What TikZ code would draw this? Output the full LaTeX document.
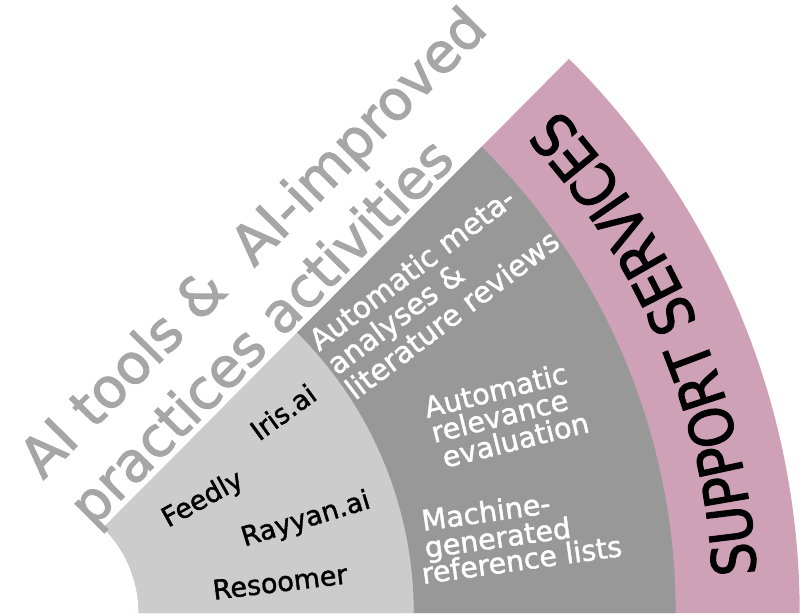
\documentclass[tikz,border=0pt]{standalone}
\usepackage{fontspec}
\setmainfont{DejaVu Sans}
\newfontfamily\supfont[FakeStretch=0.87,FakeBold=2]{DejaVu Sans}
\newfontfamily\medfont[FakeBold=1.5]{DejaVu Sans}
\newfontfamily\titlefont[FakeBold=2]{DejaVu Sans}
\usetikzlibrary{decorations.text}
\definecolor{bandpink}{RGB}{207,161,182}
\definecolor{bandlight}{RGB}{204,204,204}
\definecolor{bandmid}{RGB}{152,152,152}
\definecolor{titlegray}{RGB}{166,166,166}
\tikzset{
  titletext/.style={text=titlegray, font=\titlefont\fontsize{55}{55}\selectfont, inner sep=0pt, anchor=base west, rotate=45.2},
  toollabel/.style={text=black, font=\medfont\fontsize{27}{27}\selectfont, inner sep=0pt},
  midlabel/.style={text=white, font=\medfont\fontsize{28.5}{28.5}\selectfont, inner sep=0pt, anchor=base west},
}
\begin{document}
\begin{tikzpicture}[x=1pt,y=1pt]
\useasboundingbox (0,0) rectangle (802,615);
\begin{scope}[shift={(18.7,2)}]
  \coordinate (C) at (0,0);
  \fill[bandpink] (0:120) -- (0:781) arc[start angle=0,end angle=45.2,radius=781] -- (45.2:120) arc[start angle=45.2,end angle=0,radius=120] -- cycle;
  \fill[bandmid] (0:395) -- (0:657) arc[start angle=0,end angle=45.2,radius=657] -- (45.2:395) arc[start angle=45.2,end angle=0,radius=395] -- cycle;
  \fill[bandlight] (0:120) -- (0:395) arc[start angle=0,end angle=45.2,radius=395] -- (45.2:120) arc[start angle=45.2,end angle=0,radius=120] -- cycle;
  \path[decorate, decoration={text along path, text align=left,
      text={|\supfont\fontsize{60}{60}\selectfont|SUPPORT SERVICES}}]
    (3:738.5) arc[start angle=3, end angle=55, radius=738.5];
\end{scope}
\begin{scope}[shift={(18.7,2)}, rotate=45.2]
  \node[titletext] (title1) at (111,76) {AI tools \& \ AI-improved};
  \node[titletext] (title2) at (112,7) {practices activities};
\end{scope}
% tools (light band)
\node[toollabel, rotate=36] (iris) at (283,615-412) {Iris.ai};
\node[toollabel, rotate=29] (feedly) at (203,615-500) {Feedly};
\node[toollabel, rotate=17] (rayyan) at (306,615-520) {Rayyan.ai};
\node[toollabel, rotate=7] (resoomer) at (280,615-582) {Resoomer};
% mid band
\node[midlabel, rotate=37, font=\medfont\fontsize{29.5}{29.5}\selectfont] (meta1) at (319,615-352) {Automatic meta-};
\node[midlabel, rotate=37, font=\medfont\fontsize{29.5}{29.5}\selectfont] (meta2) at (337,615-376) {analyses \&};
\node[midlabel, rotate=37, font=\medfont\fontsize{29.5}{29.5}\selectfont] (meta3) at (355,615-401) {literature reviews};
\node[midlabel, rotate=14] (rel1) at (427,615-418) {Automatic};
\node[midlabel, rotate=14] (rel2) at (434,615-443) {relevance};
\node[midlabel, rotate=14] (rel3) at (445,615-468) {evaluation};
\node[midlabel, rotate=8] (mach1) at (423,615-531) {Machine-};
\node[midlabel, rotate=8] (mach2) at (426,615-558) {generated};
\node[midlabel, rotate=8] (mach3) at (423,615-584) {reference lists};
\end{tikzpicture}
\end{document}
